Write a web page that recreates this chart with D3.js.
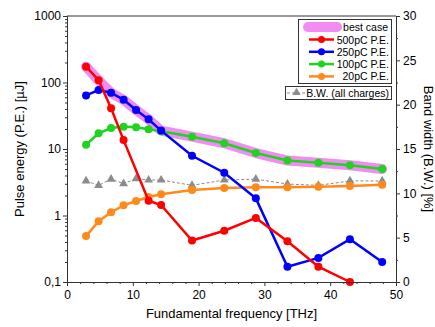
<!DOCTYPE html>
<html>
<head>
<meta charset="utf-8">
<script src="https://cdn.jsdelivr.net/npm/d3@7"></script>
<style>
  body { margin: 0; background: white; }
  text { font-family: "Liberation Sans", Arial, sans-serif; fill: #000; }
</style>
</head>
<body>
<div id="chart"></div>
<script>
// frequency points [THz]
const freq = [2.9, 4.8, 6.7, 8.6, 10.5, 12.4, 14.3, 19.0, 23.9, 28.7, 33.5, 38.2, 43.0, 47.9]

// pulse energy [uJ]
const pe500 = [173, 108, 41, 13.6, null, 1.67, 1.44, 0.42, 0.59, 0.92, 0.41, 0.17, 0.1, null]
const pe250 = [64, 77, 70, 55, 38.6, 27.9, 18.9, 7.9, 4.4, 1.81, 0.17, 0.23, 0.44, 0.2]
const pe100 = [11.6, 17.2, 20.7, 21.7, 21.2, 19.8, 18.5, 15.3, 12.2, 8.7, 6.7, 6.2, 5.7, 5.0]
const pe20 = [0.49, 0.82, 1.12, 1.42, 1.65, 1.9, 2.08, 2.42, 2.6, 2.65, 2.65, 2.7, 2.78, 2.9]
const bestCase = [173, 108, 70, 55, 38.6, 27.9, 18.9, 15.3, 12.2, 8.7, 6.7, 6.2, 5.7, 5.0]

// band width [%]
const bw = [11.4, 10.9, 11.6, 11.1, 11.65, 11.5, 11.5, 10.9, 11.5, 11.6, 11.05, 10.9, 11.4, 11.4]

const yTickLabels = ['0,1', '1', '10', '100', '1000']

const series = [
  { name: '500pC P.E.', values: pe500, color: '#ff0000' },
  { name: '250pC P.E.', values: pe250, color: '#0000ff' },
  { name: '100pC P.E.', values: pe100, color: '#1fd41f' },
  { name: '20pC P.E.', values: pe20, color: '#ff8a1c' }
]

const W = 435, H = 327
const m = { left: 67, right: 39, top: 16, bottom: 45 }

const svg = d3.select('#chart').append('svg')
  .attr('width', W)
  .attr('height', H)

const x = d3.scaleLinear().domain([0, 50]).range([m.left, W - m.right])
const y = d3.scaleLog().domain([0.1, 1000]).range([H - m.bottom, m.top])
const y2 = d3.scaleLinear().domain([0, 30]).range([H - m.bottom, m.top])

const plot = svg.append('g')

// frame top line
svg.append('line')
  .attr('x1', m.left).attr('x2', W - m.right)
  .attr('y1', m.top).attr('y2', m.top)
  .attr('stroke', '#333').attr('stroke-width', 1)

// axes
const xMinor = d3.range(0, 51, 2).filter(d => d % 10 !== 0)
const bottom = svg.append('g').attr('transform', `translate(0,${H - m.bottom})`)
bottom.call(d3.axisBottom(x).tickValues([0, 10, 20, 30, 40, 50]).tickSize(4).tickPadding(4))
bottom.append('g').call(d3.axisBottom(x).tickValues(xMinor).tickSize(2).tickFormat(''))
  .select('.domain').remove()

const majorY = [0.1, 1, 10, 100, 1000]
let minorY = []
majorY.slice(0, 4).forEach(d => { for (let k = 2; k <= 9; k++) minorY.push(d * k) })
const left = svg.append('g').attr('transform', `translate(${m.left},0)`)
left.call(d3.axisLeft(y).tickValues(majorY).tickSize(4).tickPadding(2)
  .tickFormat((d, i) => yTickLabels[i]))
left.append('g').call(d3.axisLeft(y).tickValues(minorY).tickSize(2).tickFormat(''))
  .select('.domain').remove()

const right = svg.append('g').attr('transform', `translate(${W - m.right},0)`)
right.call(d3.axisRight(y2).tickValues([0, 5, 10, 15, 20, 25, 30]).tickSize(4).tickPadding(3))
right.append('g').call(d3.axisRight(y2).tickValues([2.5, 7.5, 12.5, 17.5, 22.5, 27.5]).tickSize(2).tickFormat(''))
  .select('.domain').remove()

svg.selectAll('.domain').attr('stroke', '#333')
svg.selectAll('.tick line').attr('stroke', '#333')
svg.selectAll('.tick text').style('font-size', '12px')
  .style('font-family', '"Liberation Sans", Arial, sans-serif')

// axis titles
svg.append('text')
  .attr('transform', `translate(${m.left + (W - m.left - m.right) / 2},${H - 9})`)
  .attr('text-anchor', 'middle').style('font-size', '13px')
  .text('Fundamental frequency [THz]')
svg.append('text')
  .attr('transform', `translate(24,${(m.top + H - m.bottom) / 2}) rotate(-90)`)
  .attr('text-anchor', 'middle').style('font-size', '13px')
  .text('Pulse energy (P.E.) [µJ]')
svg.append('text')
  .attr('transform', `translate(424,${(m.top + H - m.bottom) / 2}) rotate(90)`)
  .attr('text-anchor', 'middle').style('font-size', '13px')
  .text('Band width (B.W.) [%]')

// best case band
const lineY = d3.line()
  .defined(d => d[1] != null)
  .x(d => x(d[0]))
  .y(d => y(d[1]))

plot.append('path')
  .datum(freq.map((f, i) => [f, bestCase[i]]))
  .attr('d', lineY)
  .attr('fill', 'none')
  .attr('stroke', '#f28cf2')
  .attr('stroke-width', 10)
  .attr('stroke-linejoin', 'round')
  .attr('stroke-linecap', 'round')

// band width line
const lineBW = d3.line().x(d => x(d[0])).y(d => y2(d[1]))
const bwData = freq.map((f, i) => [f, bw[i]])
plot.append('path')
  .datum(bwData)
  .attr('d', lineBW)
  .attr('fill', 'none')
  .attr('stroke', '#8c8c8c')
  .attr('stroke-width', 1)
  .attr('stroke-dasharray', '3,2')
plot.selectAll('.tri')
  .data(bwData)
  .enter()
  .append('path')
  .attr('class', 'tri')
  .attr('transform', d => `translate(${x(d[0])},${y2(d[1])})`)
  .attr('d', d3.symbol().type(d3.symbolTriangle).size(34))
  .attr('fill', '#8c8c8c')

// pulse energy series, drawn back to front
series.slice().reverse().forEach(s => {
  const pts = freq.map((f, i) => [f, s.values[i]]).filter(d => d[1] != null)
  plot.append('path')
    .datum(pts)
    .attr('d', lineY)
    .attr('fill', 'none')
    .attr('stroke', s.color)
    .attr('stroke-width', 2.5)
  plot.selectAll(null)
    .data(pts)
    .enter()
    .append('circle')
    .attr('cx', d => x(d[0]))
    .attr('cy', d => y(d[1]))
    .attr('r', 4)
    .attr('fill', s.color)
})

// legend
const lg = svg.append('g')
lg.append('rect')
  .attr('x', 298.5).attr('y', 19.5).attr('width', 93).attr('height', 64)
  .attr('fill', 'white').attr('stroke', '#333').attr('stroke-width', 1)
lg.append('line')
  .attr('x1', 308).attr('x2', 337).attr('y1', 27).attr('y2', 27)
  .attr('stroke', '#f28cf2').attr('stroke-width', 10).attr('stroke-linecap', 'round')
lg.append('text').attr('x', 388).attr('y', 31).attr('text-anchor', 'end')
  .style('font-size', '10.5px').text('best case')
series.forEach((s, i) => {
  const ly = 39.5 + i * 12.3
  lg.append('line')
    .attr('x1', 309).attr('x2', 334).attr('y1', ly).attr('y2', ly)
    .attr('stroke', s.color).attr('stroke-width', 2.5)
  lg.append('circle').attr('cx', 321.5).attr('cy', ly).attr('r', 3.5).attr('fill', s.color)
  lg.append('text').attr('x', 389).attr('y', ly + 4).attr('text-anchor', 'end')
    .style('font-size', '10.5px').text(s.name)
})

lg.append('rect')
  .attr('x', 285.5).attr('y', 86.5).attr('width', 106).attr('height', 13)
  .attr('fill', 'white').attr('stroke', '#333').attr('stroke-width', 1)
lg.append('line')
  .attr('x1', 287).attr('x2', 306).attr('y1', 93).attr('y2', 93)
  .attr('stroke', '#8c8c8c').attr('stroke-dasharray', '3,2')
lg.append('path')
  .attr('transform', 'translate(296.5,92.5)')
  .attr('d', d3.symbol().type(d3.symbolTriangle).size(30))
  .attr('fill', '#8c8c8c')
lg.append('text').attr('x', 389).attr('y', 97).attr('text-anchor', 'end')
  .style('font-size', '10.5px').text('B.W. (all charges)')
</script>
</body>
</html>
